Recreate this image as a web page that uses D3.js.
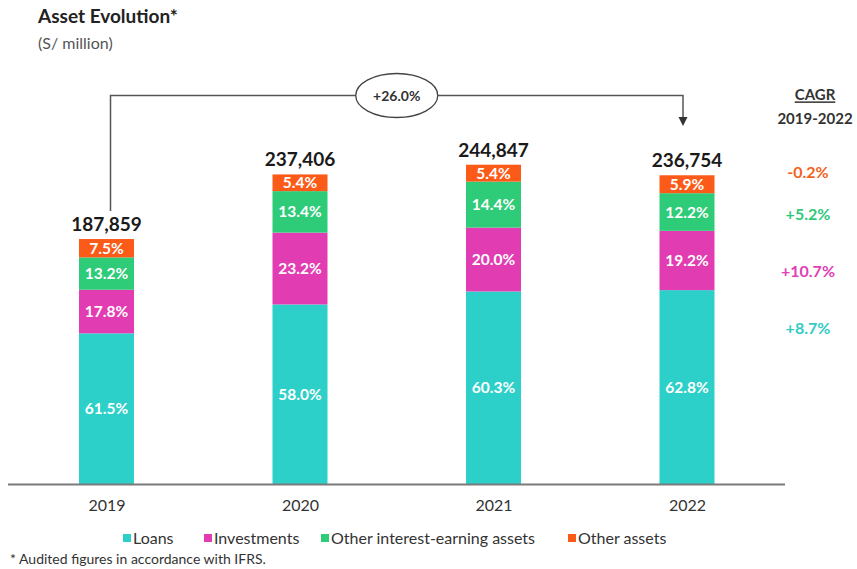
<!DOCTYPE html>
<html>
<head>
<meta charset="utf-8">
<script src="https://cdn.jsdelivr.net/npm/d3@7"></script>
<style>
  body { margin: 0; background: #fff; }
  svg { font-family: Lato, "Open Sans", sans-serif; display: block; }
</style>
</head>
<body>
<script>
// chart data
var years = ["2019", "2020", "2021", "2022"];
var totals = [187859, 237406, 244847, 236754];
var loans = [61.5, 58.0, 60.3, 62.8];
var investments = [17.8, 23.2, 20.0, 19.2];
var otherEarning = [13.2, 13.4, 14.4, 12.2];
var otherAssets = [7.5, 5.4, 5.4, 5.9];
var seriesNames = ["Loans", "Investments", "Other interest-earning assets", "Other assets"];
var cagr = ["+8.7%", "+10.7%", "+5.2%", "-0.2%"];
var growthLabel = "+26.0%";

var colors = ["#2dd0c8", "#e23cb2", "#2ecb78", "#fc5a18"];
var cagrColors = ["#33cbc3", "#e040b3", "#2ec97a", "#f5621e"];

var width = 857, height = 569;

var svg = d3.select("body").append("svg")
    .attr("width", width)
    .attr("height", height);

var x = d3.scalePoint()
    .domain(years)
    .range([106.5, 687]);

var y = d3.scaleLinear()
    .domain([0, 250000])
    .range([484, 158]);

var barW = 55;

// build stacked rows
var table = years.map(function (yr, i) {
    return { year: yr, total: totals[i], s0: loans[i], s1: investments[i], s2: otherEarning[i], s3: otherAssets[i] };
});
var keys = ["s0", "s1", "s2", "s3"];

// Title
svg.append("text")
    .attr("x", 38).attr("y", 23)
    .style("font-size", "19px").style("font-weight", "bold").style("fill", "#222")
    .text("Asset Evolution*");
svg.append("text")
    .attr("x", 38).attr("y", 49)
    .style("font-size", "16px").style("fill", "#555")
    .text("(S/ million)");

// bars
table.forEach(function (d) {
    var cum = 0;
    keys.forEach(function (k, j) {
        var v0 = d.total * cum / 100;
        cum += d[k];
        var v1 = d.total * cum / 100;
        if (j == 3) v1 = d.total;
        var g = svg.append("g");
        g.append("rect")
            .attr("x", x(d.year) - barW / 2)
            .attr("y", y(v1))
            .attr("width", barW)
            .attr("height", y(v0) - y(v1))
            .style("fill", colors[j]);
        g.append("text")
            .attr("x", x(d.year))
            .attr("y", (y(v0) + y(v1)) / 2)
            .attr("dy", "0.36em")
            .style("text-anchor", "middle")
            .style("font-size", "15.5px").style("font-weight", "bold")
            .style("fill", "#fff")
            .text(d[k].toFixed(1) + "%");
    });
    svg.append("text")
        .attr("x", x(d.year))
        .attr("y", y(d.total) - 15)
        .attr("dy", "0.36em")
        .style("text-anchor", "middle")
        .style("font-size", "19px").style("font-weight", "bold")
        .style("fill", "#1a1a1a")
        .text(d3.format(",")(d.total));
});

// x axis
var xAxis = d3.axisBottom(x).tickSize(0).tickPadding(16);
var ax = svg.append("g")
    .attr("transform", "translate(0,484)")
    .call(xAxis);
ax.select(".domain").remove();
ax.selectAll("text").style("font-size", "16px").style("fill", "#333").style("font-family", "Lato, sans-serif");
svg.append("line")
    .attr("x1", 8).attr("x2", 785)
    .attr("y1", 484.5).attr("y2", 484.5)
    .style("stroke", "#7a7a7a").style("stroke-width", 2);

// growth connector
var lineY = 95.5;
var lx = x("2019") + 4, rx = x("2022") - 4;
svg.append("path")
    .attr("d", "M" + lx + "," + 211 + "V" + lineY + "H" + rx + "V" + 118)
    .style("fill", "none").style("stroke", "#555").style("stroke-width", 1.5);
svg.append("path")
    .attr("d", "M" + (rx - 4.5) + ",117L" + (rx + 4.5) + ",117L" + rx + ",126Z")
    .style("fill", "#333");
var ex = (x("2020") + x("2021")) / 2;
svg.append("ellipse")
    .attr("cx", ex).attr("cy", lineY)
    .attr("rx", 41).attr("ry", 22)
    .style("fill", "#fff").style("stroke", "#444").style("stroke-width", 1.3);
svg.append("text")
    .attr("x", ex).attr("y", lineY).attr("dy", "0.36em")
    .style("text-anchor", "middle")
    .style("font-size", "14px").style("font-weight", "bold").style("fill", "#333")
    .text(growthLabel);

// CAGR column
svg.append("text")
    .attr("x", 815).attr("y", 95).attr("dy", "0.36em")
    .style("text-anchor", "middle")
    .style("font-size", "15px").style("font-weight", "bold").style("fill", "#333")
    .style("text-decoration", "underline")
    .text("CAGR");
svg.append("text")
    .attr("x", 815).attr("y", 119).attr("dy", "0.36em")
    .style("text-anchor", "middle")
    .style("font-size", "15px").style("font-weight", "bold").style("fill", "#333")
    .text("2019-2022");

var cagrY = [328, 271, 214, 172];
cagr.forEach(function (c, j) {
    svg.append("text")
        .attr("x", 808).attr("y", cagrY[j]).attr("dy", "0.36em")
        .style("text-anchor", "middle")
        .style("font-size", "16px").style("font-weight", "bold")
        .style("fill", cagrColors[j])
        .text(c);
});

// legend
var legendX = [123, 204, 321, 568];
var legend = svg.append("g");
seriesNames.forEach(function (name, j) {
    legend.append("rect")
        .attr("x", legendX[j]).attr("y", 534)
        .attr("width", 8).attr("height", 8)
        .style("fill", colors[j]);
    legend.append("text")
        .attr("x", legendX[j] + 10).attr("y", 538).attr("dy", "0.36em")
        .style("font-size", "16px").style("fill", "#333")
        .text(name);
});

// footnote
svg.append("text")
    .attr("x", 10).attr("y", 564)
    .style("font-size", "14px").style("fill", "#333")
    .text("* Audited figures in accordance with IFRS.");
</script>
</body>
</html>
